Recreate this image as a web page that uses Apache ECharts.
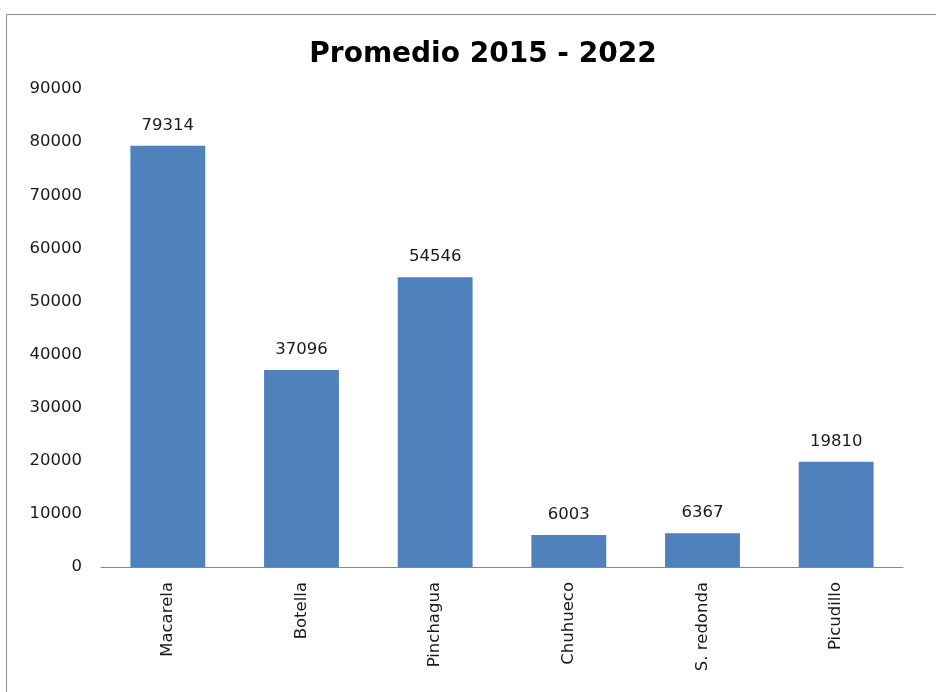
<!DOCTYPE html>
<html>
<head>
<meta charset="utf-8">
<script src="https://cdn.jsdelivr.net/npm/echarts@6/dist/echarts.min.js"></script>
<style>
  html, body { margin: 0; padding: 0; background: #fff; }
  #chart { width: 936px; height: 692px; }
</style>
</head>
<body>
<div id="chart"></div>
<script>
// Average catch per species, 2015 - 2022
const categories = ['Macarela', 'Botella', 'Pinchagua', 'Chuhueco', 'S. redonda', 'Picudillo'];
const values = [79314, 37096, 54546, 6003, 6367, 19810];
const yTicks = { min: 0, max: 90000, interval: 10000 };

const chart = echarts.init(document.getElementById('chart'), null, { renderer: 'canvas' });

const labelFont = { fontFamily: 'DejaVu Sans', fontSize: 16.5, color: '#1a1a1a' };

chart.setOption({
  backgroundColor: '#ffffff',
  animation: false,
  title: {
    text: 'Promedio 2015 - 2022',
    left: 478,
    textAlign: 'center',
    top: 36,
    textStyle: {
      fontFamily: 'DejaVu Sans',
      fontWeight: 'bold',
      fontSize: 28,
      color: '#000'
    }
  },
  graphic: [{
    type: 'rect',
    left: 4,
    top: 12,
    shape: { width: 960, height: 700 },
    style: { fill: 'none', stroke: '#8c8c8c', lineWidth: 1 },
    silent: true
  }],
  grid: {
    left: 101,
    right: 33,
    top: 89,
    bottom: 125,
    containLabel: false
  },
  xAxis: {
    type: 'category',
    data: categories,
    axisLine: { show: true, lineStyle: { color: '#888', width: 1 } },
    axisTick: { show: false },
    axisLabel: Object.assign({ rotate: 90, margin: 15 }, labelFont)
  },
  yAxis: {
    type: 'value',
    min: yTicks.min,
    max: yTicks.max,
    interval: yTicks.interval,
    axisLine: { show: false },
    axisTick: { show: false },
    splitLine: { show: false },
    axisLabel: Object.assign({ margin: 19, formatter: v => String(v) }, labelFont)
  },
  series: [{
    type: 'bar',
    data: values,
    barCategoryGap: '44%',
    itemStyle: { color: '#4f81bd' },
    label: Object.assign({ show: true, position: 'top', distance: 12 }, labelFont)
  }]
});
</script>
</body>
</html>
